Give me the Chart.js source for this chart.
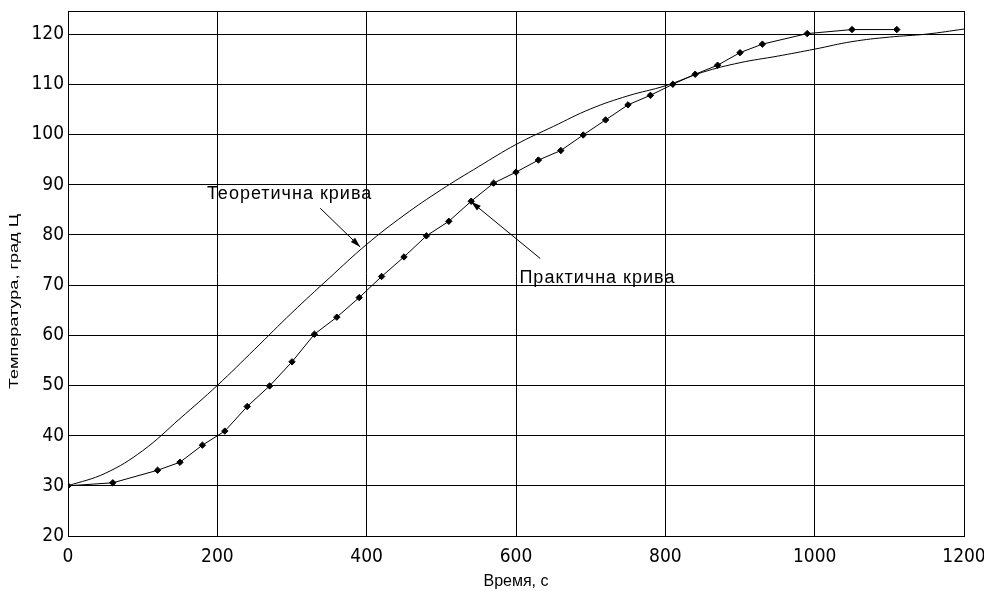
<!DOCTYPE html>
<html>
<head>
<meta charset="utf-8">
<script src="https://cdn.jsdelivr.net/npm/chart.js@4.4.1/dist/chart.umd.min.js"></script>
<style>
  html, body { margin: 0; padding: 0; background: #fff; }
  #wrap { width: 984px; height: 591px; }
</style>
</head>
<body>
<div id="wrap"><canvas id="grafica-temp" width="984" height="591"></canvas></div>
<script>
// теоретична крива
const theoryTime = [0, 50, 100, 150, 200, 250, 300, 350, 400, 450, 500, 550, 600, 650, 700, 750, 800, 850, 900, 950, 1000, 1050, 1100, 1150, 1200];
const theoryTemp = [30, 32.5, 37, 43.4, 50, 57.2, 64.5, 71.4, 78.1, 83.9, 89, 93.6, 98, 101.6, 105.1, 107.7, 109.7, 112.4, 114.3, 115.6, 117, 118.5, 119.4, 120, 121];

// практична крива (вимірювання)
const practiceTime = [0, 60, 120, 150, 180, 210, 240, 270, 300, 330, 360, 390, 420, 450, 480, 510, 540, 570, 600, 630, 660, 690, 720, 750, 780, 810, 840, 870, 900, 930, 990, 1050, 1110];
const practiceTemp = [30, 30.6, 33.1, 34.7, 38.1, 40.9, 45.8, 49.9, 54.7, 60.2, 63.6, 67.5, 71.7, 75.6, 79.8, 82.7, 86.7, 90.3, 92.5, 94.9, 96.8, 99.9, 102.9, 105.9, 107.8, 110, 112, 113.8, 116.3, 118, 120.1, 120.9, 120.9];

const xTicks = [0, 200, 400, 600, 800, 1000, 1200];
const yTicks = [20, 30, 40, 50, 60, 70, 80, 90, 100, 110, 120];

const xTitle = 'Время, с';
const yTitle = 'Температура, град Ц';

// підписи кривих: текст і стрілка (в одиницях осей)
const notes = [
    { text: 'Теоретична крива', x: 186, y: 87.1, from: [337.8, 85.3], to: [391.3, 77.6] },
    { text: 'Практична крива', x: 604.6, y: 70.5, from: [632.4, 75.3], to: [539.9, 86.6] }
];

const narrow = "'Liberation Sans Narrow', 'Arial Narrow', 'DejaVu Sans Condensed', sans-serif";
const regular = "'Liberation Sans', Arial, sans-serif";

const toPoints = (xs, ys) => xs.map((v, i) => ({ x: v, y: ys[i] }));

const drawArrow = (ctx, x0, y0, x1, y1) => {
    const ang = Math.atan2(y1 - y0, x1 - x0);
    ctx.beginPath();
    ctx.moveTo(x0, y0);
    ctx.lineTo(x1, y1);
    ctx.stroke();
    ctx.beginPath();
    ctx.moveTo(x1, y1);
    ctx.lineTo(x1 - 10 * Math.cos(ang) + 3 * Math.sin(ang), y1 - 10 * Math.sin(ang) - 3 * Math.cos(ang));
    ctx.lineTo(x1 - 10 * Math.cos(ang) - 3 * Math.sin(ang), y1 - 10 * Math.sin(ang) + 3 * Math.cos(ang));
    ctx.closePath();
    ctx.fill();
}

const notesPlugin = {
    id: 'notes',
    afterDraw(chart) {
        const { ctx, chartArea: a, scales: { x, y } } = chart;
        ctx.save();
        ctx.strokeStyle = '#000';
        ctx.fillStyle = '#000';
        ctx.lineWidth = 1;
        ctx.strokeRect(a.left + 0.5, a.top + 0.5, a.right - a.left, a.bottom - a.top);

        ctx.font = '18px ' + regular;
        ctx.letterSpacing = '1px';
        ctx.textAlign = 'left';
        ctx.textBaseline = 'alphabetic';
        notes.forEach(n => {
            ctx.fillText(n.text, x.getPixelForValue(n.x), y.getPixelForValue(n.y));
            drawArrow(ctx,
                x.getPixelForValue(n.from[0]), y.getPixelForValue(n.from[1]),
                x.getPixelForValue(n.to[0]), y.getPixelForValue(n.to[1]));
        });
        ctx.letterSpacing = '0px';

        // назва осі Y, розтягнута як в оригіналі
        ctx.translate(14, (a.top + a.bottom) / 2 + 28);
        ctx.rotate(-Math.PI / 2);
        ctx.font = '13px ' + regular;
        const w = ctx.measureText(yTitle).width;
        ctx.scale(175 / w, 1);
        ctx.textAlign = 'center';
        ctx.textBaseline = 'middle';
        ctx.fillText(yTitle, 0, 0);
        ctx.restore();
    }
};

const canvas = document.getElementById('grafica-temp');

new Chart(canvas, {
    type: 'line',
    data: {
        datasets: [{
            label: 'Теоретична крива',
            data: toPoints(theoryTime, theoryTemp),
            borderColor: '#000',
            borderWidth: 1,
            pointRadius: 0,
            tension: 0.4
        }, {
            label: 'Практична крива',
            data: toPoints(practiceTime, practiceTemp),
            borderColor: '#000',
            backgroundColor: '#000',
            borderWidth: 1,
            pointStyle: 'rectRot',
            pointRadius: 3.2,
            tension: 0
        }]
    },
    options: {
        responsive: false,
        animation: false,
        layout: { padding: { left: 0, top: 11, right: 20, bottom: 0 } },
        plugins: {
            legend: { display: false },
            tooltip: { enabled: false }
        },
        scales: {
            x: {
                type: 'linear',
                min: 0,
                max: 1200,
                afterBuildTicks: s => { s.ticks = xTicks.map(v => ({ value: v })); },
                afterFit: s => { s.height = 55; s.paddingLeft = 0; s.paddingRight = 0; },
                grid: { color: '#000', lineWidth: 1, drawTicks: false },
                border: { color: '#000', width: 1 },
                ticks: {
                    color: '#000', padding: 12, maxRotation: 0,
                    font: { family: narrow, size: 19, lineHeight: 1 },
                    callback: v => String(v)
                },
                title: { display: true, text: xTitle, color: '#000', padding: 0, font: { family: regular, size: 16 } }
            },
            y: {
                min: 20,
                max: 124.6,
                afterBuildTicks: s => { s.ticks = yTicks.map(v => ({ value: v })); },
                afterFit: s => { s.width = 68; s.paddingTop = 0; s.paddingBottom = 0; },
                grid: { color: '#000', lineWidth: 1, drawTicks: false },
                border: { color: '#000', width: 1 },
                ticks: {
                    color: '#000', padding: 4,
                    font: { family: narrow, size: 19, lineHeight: 1 },
                    callback: v => String(v)
                }
            }
        }
    },
    plugins: [notesPlugin]
});
</script>
</body>
</html>
